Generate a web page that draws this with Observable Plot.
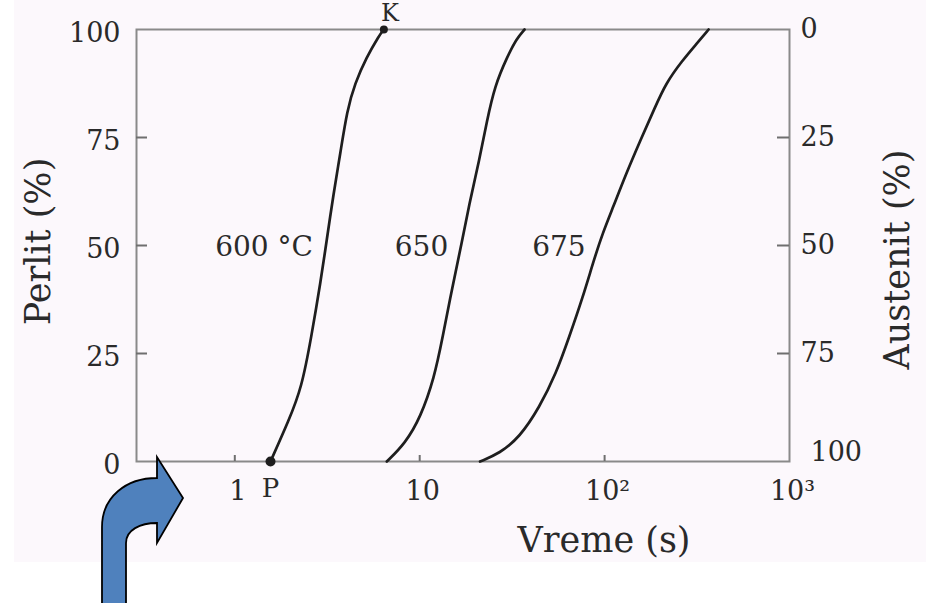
<!DOCTYPE html>
<html>
<head>
<meta charset="utf-8">
<script src="https://cdn.jsdelivr.net/npm/d3@7"></script>
<script src="https://cdn.jsdelivr.net/npm/@observablehq/plot@0.6"></script>
<style>
  html, body { margin: 0; padding: 0; background: #fff; }
  #chart { width: 926px; height: 603px; overflow: hidden; }
</style>
</head>
<body>
<div id="chart"></div>
<script>
// Isothermal transformation of austenite into pearlite (perlit) over time.

// Curve temperatures and their in-plot labels
const temperatures = ["600", "650", "675"];
const curveLabels = ["600 °C", "650", "675"];

// 600 °C: time (s) and pearlite fraction (%)
const time600   = [1.56, 1.96, 2.30, 2.59, 2.92, 3.14, 3.42, 3.72, 4.05, 4.46, 5.15, 6.03, 6.40];
const perlit600 = [0, 9.5, 17.1, 28.7, 41.9, 51.2, 62.0, 71.3, 81.3, 87.5, 93.5, 98.6, 100];

// 650 °C
const time650   = [6.64, 8.35, 10.1, 12.0, 13.3, 15.0, 17.0, 18.7, 21.0, 23.1, 25.5, 29.6, 33.4, 36.9];
const perlit650 = [0, 4.2, 10.2, 19.4, 28.7, 40.3, 51.2, 60.4, 69.7, 78.9, 87.0, 93.5, 97.9, 100];

// 675 °C
const time675   = [21.2, 27.1, 34.7, 44.4, 54.7, 64.2, 76.2, 87.3, 97.5, 111, 131, 156, 187, 214, 263, 316, 365];
const perlit675 = [0, 1.9, 5.6, 12.5, 20.4, 28.7, 38.0, 46.5, 52.8, 58.8, 66.7, 74.3, 81.9, 87.5, 92.8, 96.8, 100];

// Axis ticks
const perlitTicks = [0, 25, 50, 75, 100];
const austenitTicks = [0, 25, 50, 75, 100];
const innerTicks = [25, 50, 75];
const timeTicks = [1, 10, 100, 1000];
const timeTickLabels = ["1", "10", "10²", "10³"];
const timeTickMarks = [1, 10, 100];

// Start (P) and finish (K) of the 600 °C transformation
const pointNames = ["P", "K"];

// ---- tables built from the arrays above ----
const series = [
  {T: temperatures[0], label: curveLabels[0], time: time600, perlit: perlit600},
  {T: temperatures[1], label: curveLabels[1], time: time650, perlit: perlit650},
  {T: temperatures[2], label: curveLabels[2], time: time675, perlit: perlit675}
];
const rows = series.flatMap(s => s.time.map((t, i) => ({T: s.T, t, p: s.perlit[i]})));

// time at which a series reaches 50 %, interpolated in log time
function halfTime(s) {
  for (let i = 1; i < s.perlit.length; i++) {
    if (s.perlit[i] >= 50) {
      const f = (50 - s.perlit[i - 1]) / (s.perlit[i] - s.perlit[i - 1]);
      const a = Math.log(s.time[i - 1]), b = Math.log(s.time[i]);
      return Math.exp(a + f * (b - a));
    }
  }
}
const labelRows = series.map(s => ({label: s.label, t: halfTime(s), p: 50}));

const startPt = {name: pointNames[0], t: time600[0], p: perlit600[0]};
const endPt = {name: pointNames[1], t: time600[time600.length - 1], p: perlit600[perlit600.length - 1]};

// ---- layout ----
const W = 926, H = 603;
const M = {top: 29, right: 137, bottom: 142, left: 136};
const plotW = W - M.left - M.right;
const plotH = H - M.top - M.bottom;

const serif = "DejaVu Serif";
const ink = "#2a2a2a";
const axisGray = "#8a8a8a";
const tickGray = "#6f6f6f";

const chart = Plot.plot({
  width: W,
  height: H,
  marginTop: M.top,
  marginRight: M.right,
  marginBottom: M.bottom,
  marginLeft: M.left,
  style: {fontFamily: serif, background: "transparent"},
  x: {type: "log", domain: [0.294, 1000], axis: null},
  y: {domain: [0, 100], axis: null},
  marks: [
    Plot.frame({stroke: axisGray, strokeWidth: 2}),
    // inward tick marks
    Plot.tickY(innerTicks, {y: d => d, insetRight: plotW - 11, stroke: tickGray, strokeWidth: 2}),
    Plot.tickY(innerTicks, {y: d => d, insetLeft: plotW - 12, stroke: tickGray, strokeWidth: 2}),
    Plot.tickX(timeTickMarks, {x: d => d, insetTop: plotH - 6, stroke: tickGray, strokeWidth: 2}),
    // transformation curves
    Plot.line(rows, {x: "t", y: "p", z: "T", curve: "basis", stroke: "#1e1e1e", strokeWidth: 2.7}),
    Plot.dot([startPt], {x: "t", y: "p", r: 5, fill: "#1e1e1e"}),
    Plot.dot([endPt], {x: "t", y: "p", r: 4, fill: "#1e1e1e"}),
    Plot.text(labelRows, {x: "t", y: "p", text: "label", textAnchor: "end", dx: -13, dy: 2,
      fontSize: 28, fill: ink}),
    Plot.text([startPt], {x: "t", y: "p", text: "name", dy: 27, fontSize: 26, fill: ink}),
    Plot.text([endPt], {x: "t", y: "p", text: "name", dx: 6, dy: -16, fontSize: 24, fill: ink}),
    // tick labels
    Plot.text(perlitTicks, {y: d => d, frameAnchor: "left", textAnchor: "end", lineAnchor: "middle",
      dx: -16, dy: 4, fontSize: 27, fill: ink}),
    Plot.text(austenitTicks.filter(d => d < 100), {y: d => 100 - d, frameAnchor: "right",
      textAnchor: "start", lineAnchor: "middle", dx: 11, fontSize: 27, fill: ink}),
    Plot.text(austenitTicks.filter(d => d === 100), {y: d => 100 - d, frameAnchor: "right",
      textAnchor: "start", lineAnchor: "middle", dx: 21, dy: -9, fontSize: 27, fill: ink}),
    Plot.text(timeTicks, {x: d => d, frameAnchor: "bottom", textAnchor: "middle", lineAnchor: "middle",
      text: (d, i) => timeTickLabels[i], dx: 3, dy: 30, fontSize: 27, fill: ink}),
    // axis titles
    Plot.text(["Perlit (%)"], {frameAnchor: "left", textAnchor: "middle", lineAnchor: "middle",
      rotate: -90, dx: -98, dy: -4, fontSize: 35, fill: ink}),
    Plot.text(["Austenit (%)"], {frameAnchor: "right", textAnchor: "middle", lineAnchor: "middle",
      rotate: -90, dx: 108, dy: 14, fontSize: 35, fill: ink}),
    Plot.text(["Vreme (s)"], {frameAnchor: "bottom", textAnchor: "middle", lineAnchor: "middle",
      dx: 141, dy: 79, fontSize: 35, fill: ink})
  ]
});

const svg = d3.select(chart);

// faint paper tone behind the figure
svg.insert("rect", ":first-child")
  .attr("x", 14).attr("y", 0)
  .attr("width", W - 14).attr("height", 562)
  .attr("fill", "#fcf8fc");

// bent blue pointer arrow
svg.append("path")
  .attr("d", "M102,606 L102,527 C102,497 126,478 157,478 L157,457 L183,498 L157,543 L157,523 " +
             "C140,523 126,530 126,543 L126,606 Z")
  .attr("fill", "#4f81bd")
  .attr("stroke", "#000")
  .attr("stroke-width", 1.8)
  .attr("stroke-linejoin", "miter");

document.getElementById("chart").appendChild(chart);
</script>
</body>
</html>
